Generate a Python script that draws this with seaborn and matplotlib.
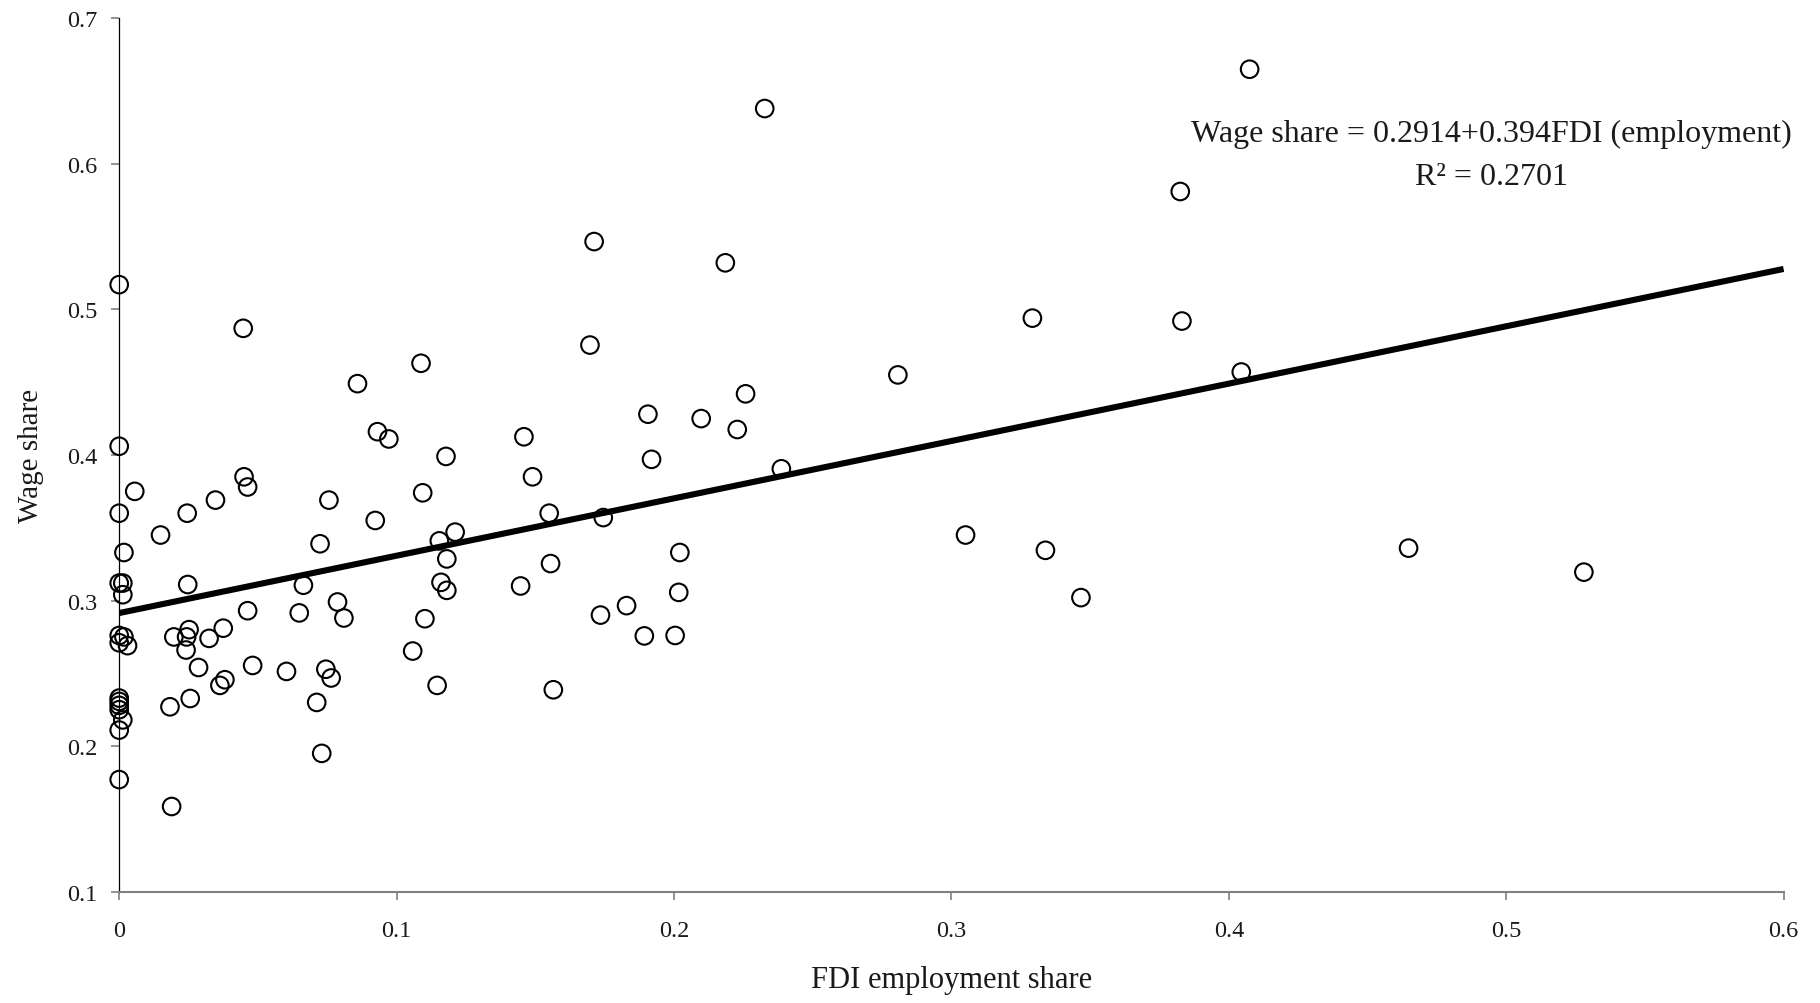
import pandas as pd
import seaborn as sns
import matplotlib.pyplot as plt

# --- DATA ---
fdi_share = [
    0.0, 0.0, 0.0056, 0.0, 0.0017, 0.0, 0.0013, 0.0013, 0.0, 0.0017,
    0.0, 0.003, 0.0, 0.0, 0.0, 0.0, 0.0013, 0.0, 0.0,
    0.0149, 0.0183, 0.0189, 0.0197, 0.0245, 0.0247, 0.0252, 0.0243, 0.0241, 0.0256,
    0.0286, 0.0324, 0.0347, 0.0363, 0.0381, 0.0375, 0.0447, 0.045, 0.0463, 0.0463,
    0.0481, 0.0603, 0.0649, 0.0664, 0.0712, 0.0724, 0.073, 0.0745, 0.0756, 0.0764,
    0.0787, 0.081, 0.0859, 0.0923, 0.0931, 0.0972, 0.1058, 0.1088, 0.1094, 0.1102,
    0.1146, 0.1154, 0.116, 0.1178, 0.1181, 0.1181, 0.1211, 0.1447, 0.1459, 0.149,
    0.155, 0.1555, 0.1565, 0.1697, 0.1712, 0.1735, 0.1745, 0.1829, 0.1893, 0.1906,
    0.1919, 0.2004, 0.2017, 0.2021, 0.2098, 0.2185, 0.2228, 0.2258, 0.2327, 0.2387,
    0.2807, 0.3051, 0.3292, 0.3339, 0.3467, 0.3825, 0.3831, 0.4045, 0.4075, 0.4648,
    0.528,
]
wage_share = [
    0.517, 0.406, 0.375, 0.360, 0.333, 0.312, 0.312, 0.304, 0.276, 0.275,
    0.271, 0.269, 0.233, 0.2307, 0.228, 0.225, 0.218, 0.211, 0.177,
    0.345, 0.227, 0.1585, 0.275, 0.360, 0.311, 0.280, 0.275, 0.266, 0.2327,
    0.254, 0.274, 0.369, 0.2417, 0.2456, 0.281, 0.487, 0.385, 0.378, 0.293,
    0.2554, 0.2513, 0.2915, 0.3105, 0.230, 0.339, 0.195, 0.2528, 0.369, 0.2468,
    0.299, 0.288, 0.449, 0.355, 0.416, 0.411, 0.2653, 0.463, 0.374, 0.2875,
    0.2417, 0.341, 0.3125, 0.399, 0.3286, 0.307, 0.347, 0.310, 0.4125, 0.385,
    0.360, 0.3254, 0.2387, 0.4755, 0.5466, 0.290, 0.357, 0.2965, 0.2757, 0.428,
    0.397, 0.276, 0.3056, 0.333, 0.425, 0.532, 0.4175, 0.442, 0.638, 0.3905,
    0.455, 0.345, 0.494, 0.3345, 0.302, 0.581, 0.492, 0.457, 0.665, 0.336,
    0.3195,
]

trend_intercept = 0.2914
trend_slope = 0.394
r_squared = 0.2701

x_ticks = [0, 0.1, 0.2, 0.3, 0.4, 0.5, 0.6]
x_tick_labels = ["0", "0.1", "0.2", "0.3", "0.4", "0.5", "0.6"]
y_ticks = [0.1, 0.2, 0.3, 0.4, 0.5, 0.6, 0.7]
y_tick_labels = ["0.1", "0.2", "0.3", "0.4", "0.5", "0.6", "0.7"]

# --- STYLE ---
sns.set_style("ticks")
plt.rcParams['font.family'] = ['Liberation Serif', 'DejaVu Serif']

df = pd.DataFrame({"fdi": fdi_share, "wage": wage_share})
trend = pd.DataFrame({"fdi": [x_ticks[0], x_ticks[-1]]})
trend["wage"] = trend_intercept + trend_slope * trend["fdi"]

fig = plt.figure(figsize=(18.2, 10.04), dpi=100)
ax = fig.add_axes([0.0655, 0.1109, 0.9145, 0.8699])

sns.scatterplot(data=df, x="fdi", y="wage", ax=ax, marker="o", s=160,
                color="black", linewidth=1.5, clip_on=False, zorder=3)
pts = ax.collections[0]
pts.set_facecolor("none")
pts.set_edgecolor("black")

sns.lineplot(data=trend, x="fdi", y="wage", ax=ax, color="black",
             linewidth=4.4, zorder=4, solid_capstyle="butt")

ax.set_xlim(x_ticks[0], x_ticks[-1])
ax.set_ylim(y_ticks[0], y_ticks[-1])
ax.set_xticks(x_ticks)
ax.set_xticklabels(x_tick_labels)
ax.set_yticks(y_ticks)
ax.set_yticklabels(y_tick_labels)

sns.despine(ax=ax)
ax.spines["left"].set_color("black")
ax.spines["left"].set_linewidth(0.9)
ax.spines["bottom"].set_color("#808080")
ax.spines["bottom"].set_linewidth(1.5)

ax.tick_params(axis="x", length=5.5, width=1.2, color="#808080", pad=15,
               labelsize=17.5, labelcolor="#1a1a1a")
ax.tick_params(axis="y", length=5.8, width=1.2, color="#808080", pad=10,
               labelsize=17.5, labelcolor="#1a1a1a")

ax.set_xlabel("FDI employment share", fontsize=22, color="#1a1a1a")
ax.set_ylabel("Wage share", fontsize=21, color="#1a1a1a")
ax.xaxis.set_label_coords(0.5, -0.084)
ax.yaxis.set_label_coords(-0.045, 0.5)

ax.text(0.4945, 0.621,
        f"Wage share = {trend_intercept}+{trend_slope}FDI (employment)",
        ha="center", va="center", fontsize=23, color="#1a1a1a")
ax.text(0.4945, 0.591, f"R² = {r_squared}",
        ha="center", va="center", fontsize=23, color="#1a1a1a")

plt.savefig("out.png", dpi=100)
